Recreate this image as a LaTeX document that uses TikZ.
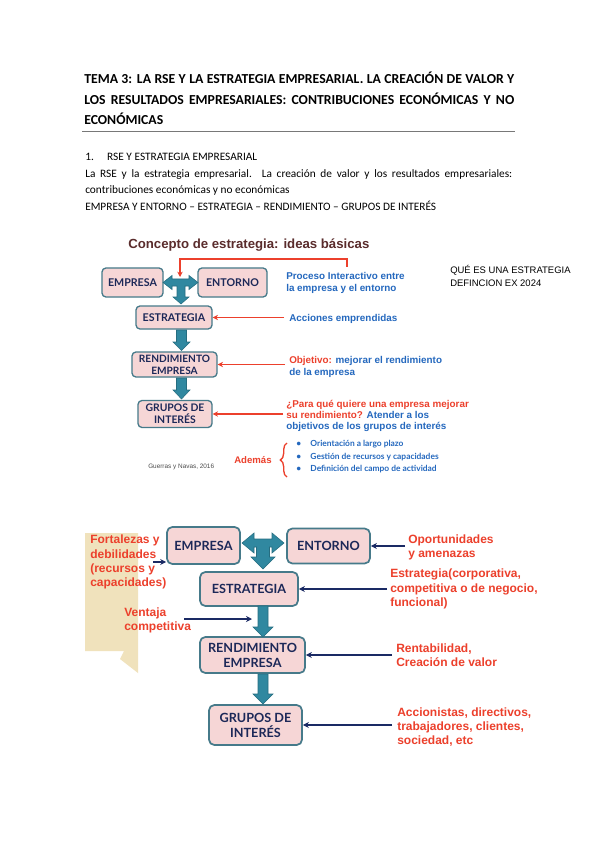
\documentclass[tikz,border=0pt]{standalone}
\usepackage{fontspec}
\setmainfont{Carlito}
\newfontfamily\arial{Liberation Sans}
\newfontfamily\lato{Lato}
\usetikzlibrary{arrows.meta,decorations.pathreplacing}
\definecolor{pinkfill}{RGB}{246,214,214}
\definecolor{boxborder}{RGB}{70,122,138}
\definecolor{boxtext}{RGB}{28,40,88}
\definecolor{tealarr}{RGB}{48,136,160}
\definecolor{redtxt}{RGB}{236,64,44}
\definecolor{bluetxt}{RGB}{36,104,190}
\definecolor{navyarr}{RGB}{26,42,100}
\definecolor{tanfill}{RGB}{240,226,188}
\definecolor{maroon}{RGB}{90,44,44}
\definecolor{rulegray}{RGB}{120,120,120}
\begin{document}
\begin{tikzpicture}[x=0.75pt,y=-0.75pt,
  boxa/.style={draw=boxborder, fill=pinkfill, rounded corners=3pt, line width=1pt, inner sep=0pt, align=center, text=boxtext, font=\lato\bfseries\fontsize{8}{9.75}\selectfont},
  boxb/.style={boxa, rounded corners=4pt, line width=1.3pt, font=\lato\bfseries\fontsize{9.5}{11.25}\selectfont},
  hdr/.style={anchor=base west, inner sep=0pt, font=\fontsize{8.5}{10}\selectfont},
  ttl/.style={anchor=base west, inner sep=0pt, font=\bfseries\fontsize{10.3}{11}\selectfont},
  bluet/.style={anchor=west, inner sep=0pt, align=left, text=bluetxt, font=\arial\bfseries\fontsize{7.4}{9}\selectfont},
  redt/.style={anchor=west, inner sep=0pt, align=left, text=redtxt, font=\arial\bfseries\fontsize{9}{10.6}\selectfont},
  redarr/.style={draw=redtxt, line width=1.1pt, -{Stealth[length=4pt,width=4pt]}},
  navarr/.style={draw=navyarr, line width=1.4pt, -{Stealth[length=4.5pt,width=4.5pt]}},
  tealshape/.style={fill=tealarr, draw=tealarr!80!black, line width=0.4pt},
  bullett/.style={anchor=west, inner sep=0pt, text=bluetxt, font=\lato\bfseries\fontsize{6.3}{7}\selectfont}
]
\path[use as bounding box, fill=white] (0,0) rectangle (599,848);

% ---------- header ----------
\node[ttl] (h1) at (84,84) {\makebox[322.5pt][s]{TEMA 3: LA RSE Y LA ESTRATEGIA EMPRESARIAL. LA CREACIÓN DE VALOR Y}};
\node[ttl] (h2) at (84,105) {\makebox[322.5pt][s]{LOS RESULTADOS EMPRESARIALES: CONTRIBUCIONES ECONÓMICAS Y NO}};
\node[ttl] (h3) at (84,125) {ECONÓMICAS};
\coordinate (rl) at (82,131.5);
\coordinate (rr) at (515,131.5);
\draw[rulegray, line width=0.9pt] (rl) -- (rr);
\node[hdr] (b1) at (85,161) {1.\hspace{10pt}RSE Y ESTRATEGIA EMPRESARIAL};
\node[hdr] (b2) at (85,178) {\makebox[320.25pt][s]{La RSE y la estrategia empresarial. La creación de valor y los resultados empresariales:}};
\node[hdr] (b3) at (85,194) {contribuciones económicas y no económicas};
\node[hdr] (b4) at (85,211) {EMPRESA Y ENTORNO – ESTRATEGIA – RENDIMIENTO – GRUPOS DE INTERÉS};

% ---------- diagram 1 ----------
\node[anchor=west, inner sep=0pt, text=maroon, font=\arial\bfseries\fontsize{9.9}{11}\selectfont] (ct) at (128,245) {Concepto de estrategia: ideas básicas};

\node[boxa, minimum width=45.75pt, minimum height=21.75pt] (emp1) at (132.5,282.5) {EMPRESA};
\node[boxa, minimum width=51.75pt, minimum height=21.75pt] (ent1) at (232.5,282.5) {ENTORNO};
\node[boxa, minimum width=57pt, minimum height=17.25pt] (est1) at (174,317.5) {ESTRATEGIA};
\node[boxa, minimum width=63.75pt, minimum height=18.75pt, font=\lato\bfseries\fontsize{7.6}{9}\selectfont] (ren1) at (174.5,364.5) {RENDIMIENTO\\EMPRESA};
\node[boxa, minimum width=55.5pt, minimum height=20.25pt, font=\lato\bfseries\fontsize{7.8}{9}\selectfont] (gru1) at (175,414) {GRUPOS DE\\INTERÉS};

% T arrow 1
\fill[tealshape] (163,282.5) -- (172,275.5) -- (172,279) -- (189,279) -- (189,275.5) -- (198,282.5) -- (189,289.5) -- (189,286) -- (185,286) -- (185,297) -- (189,297) -- (181,304) -- (173,297) -- (177,297) -- (177,286) -- (172,286) -- (172,289.5) -- cycle;
% down arrows 1
\fill[tealshape] (176.5,330) -- (186.5,330) -- (186.5,342) -- (190,342) -- (181.5,350.5) -- (173,342) -- (176.5,342) -- cycle;
\fill[tealshape] (176.5,378) -- (186.5,378) -- (186.5,390) -- (190,390) -- (181.5,399) -- (173,390) -- (176.5,390) -- cycle;

\node[bluet] (proc) at (286,283) {Proceso Interactivo entre\\la empresa y el entorno};
\coordinate (r0) at (347,267);
\coordinate (r1) at (180,277);
\draw[redarr] (r0) -- (347,259) -| (r1);

\node[bluet] (acc1) at (289,319) {Acciones emprendidas};
\coordinate (a1) at (284,317.5);
\draw[redarr] (a1) -- (est1.east);

\node[bluet] (obj1) at (289,366.5) {\textcolor{redtxt}{Objetivo:} mejorar el rendimiento\\de la empresa};
\coordinate (a2) at (285,364.5);
\draw[redarr] (a2) -- (ren1.east);

\node[bluet, font=\arial\bfseries\fontsize{7.4}{8.3}\selectfont] (para) at (286,416) {\textcolor{redtxt}{¿Para qué quiere una empresa mejorar}\\\textcolor{redtxt}{su rendimiento?} Atender a los\\objetivos de los grupos de interés};
\coordinate (a3) at (283,414);
\draw[redarr] (a3) -- (gru1.east);

\node[anchor=west, inner sep=0pt, text=redtxt, font=\arial\bfseries\fontsize{7.2}{8}\selectfont] (adem) at (234,460) {Además};
\coordinate (br1) at (287,477);
\coordinate (br2) at (287,443);
\draw[redtxt, line width=1pt, decorate, decoration={brace, amplitude=5pt}] (br1) -- (br2);

\node[bullett] (l1) at (296,444) {•\hspace{7pt}Orientación a largo plazo};
\node[bullett] (l2) at (296,457) {•\hspace{7pt}Gestión de recursos y capacidades};
\node[bullett] (l3) at (296,469) {•\hspace{7pt}Definición del campo de actividad};

\node[anchor=west, inner sep=0pt, text=black!70, font=\arial\fontsize{4.8}{5.5}\selectfont] (gn) at (148,467) {Guerras y Navas, 2016};

\node[anchor=west, inner sep=0pt, align=left, font=\arial\fontsize{7.1}{9.75}\selectfont] (que) at (450,275.5) {QUÉ ES UNA ESTRATEGIA\\DEFINCION EX 2024};

% ---------- diagram 2 ----------
\fill[tanfill] (85,533) -- (138,533) -- (138,673) -- (120,659) -- (124,651) -- (85,651) -- cycle;

\node[boxb, minimum width=54.75pt, minimum height=27.75pt] (emp2) at (203.5,545.5) {EMPRESA};
\node[boxb, minimum width=62.25pt, minimum height=26.25pt] (ent2) at (328.5,546) {ENTORNO};
\node[boxb, minimum width=73.5pt, minimum height=25.5pt] (est2) at (249,589) {ESTRATEGIA};
\node[boxb, minimum width=78.75pt, minimum height=27pt] (ren2) at (252.5,655) {RENDIMIENTO\\EMPRESA};
\node[boxb, minimum width=69.75pt, minimum height=30pt] (gru2) at (255.5,725) {GRUPOS DE\\INTERÉS};

% T arrow 2
\fill[tealshape] (242,543) -- (254,533) -- (254,539) -- (272,539) -- (272,533) -- (284,543) -- (272,553) -- (272,547) -- (269.5,547) -- (269.5,557) -- (275,557) -- (263,569) -- (251,557) -- (256.5,557) -- (256.5,547) -- (254,547) -- (254,553) -- cycle;
% down arrows 2
\fill[tealshape] (258,606) -- (268,606) -- (268,627) -- (273,627) -- (263,637) -- (253,627) -- (258,627) -- cycle;
\fill[tealshape] (258,674) -- (268,674) -- (268,694) -- (273,694) -- (263,704) -- (253,694) -- (258,694) -- cycle;

\node[redt] (fort) at (90,562) {Fortalezas y\\debilidades\\(recursos y\\capacidades)};
\coordinate (f1) at (153,562);
\draw[navarr] (f1) -- (f1 -| emp2.west);

\node[redt] (vent) at (124,620.5) {Ventaja\\competitiva};
\coordinate (v1) at (184,619);
\coordinate (v2) at (252,619);
\draw[navarr] (v1) -- (v2);

\node[redt] (oport) at (408,547) {Oportunidades\\y amenazas};
\coordinate (o1) at (405,546);
\draw[navarr] (o1) -- (ent2.east);

\node[redt] (estrat) at (390,589) {Estrategia(corporativa,\\competitiva o de negocio,\\funcional)};
\coordinate (e1) at (387,589);
\draw[navarr] (e1) -- (est2.east);

\node[redt] (rent) at (396,655) {Rentabilidad,\\Creación de valor};
\coordinate (n1) at (392,655);
\draw[navarr] (n1) -- (ren2.east);

\node[redt] (acc2) at (397,727) {Accionistas, directivos,\\trabajadores, clientes,\\sociedad, etc};
\coordinate (g1) at (392,725);
\draw[navarr] (g1) -- (gru2.east);
\end{tikzpicture}
\end{document}
